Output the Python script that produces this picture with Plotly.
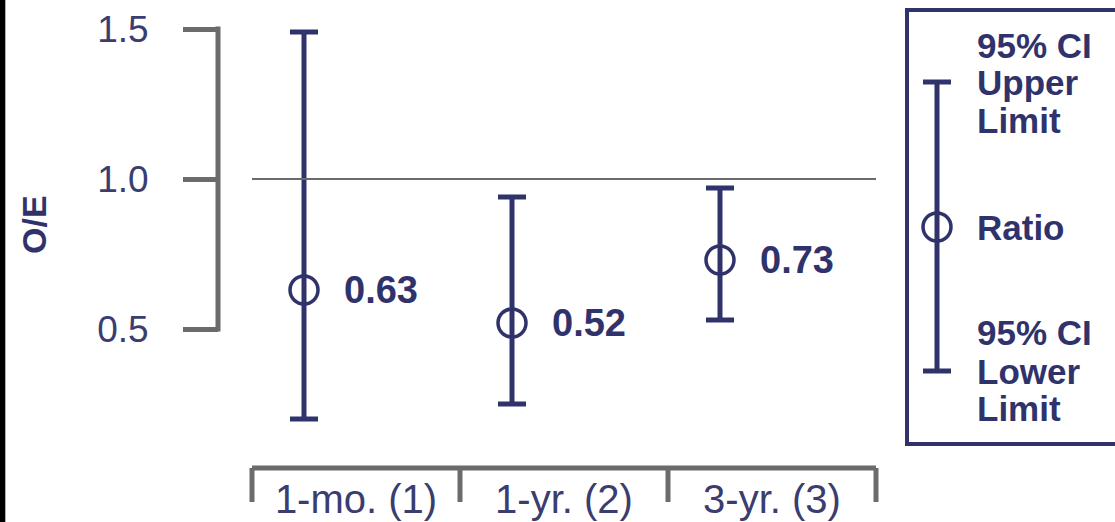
import plotly.graph_objects as go

# ---- data ----
categories = ["1-mo. (1)", "1-yr. (2)", "3-yr. (3)"]
ratio = [0.63, 0.52, 0.73]
ci_lower = [0.20, 0.25, 0.53]
ci_upper = [1.49, 0.94, 0.97]
y_ticks = [0.5, 1.0, 1.5]
y_ticktext = ["0.5", "1.0", "1.5"]
legend_upper = ["95% CI", "Upper", "Limit"]
legend_mid = "Ratio"
legend_lower = ["95% CI", "Lower", "Limit"]

# ---- style ----
NAVY = "#30336b"
TXT = "#393d6f"
GRAY = "#6b6b6b"
FONT = "Liberation Sans, Arial, sans-serif"

W, H = 1115, 522
ML, MR, MT, MB = 219, 0, 10, 54
PW, PH = W - ML - MR, H - MT - MB


def px(x):
    return (x - ML) / PW


def py(y):
    return (H - MB - y) / PH


xpos = list(range(len(categories)))
fig = go.Figure()

fig.add_trace(go.Scatter(
    x=xpos, y=ratio, mode="markers",
    marker=dict(symbol="circle-open", size=28, color=NAVY, line=dict(width=3.5, color=NAVY)),
    error_y=dict(type="data", symmetric=False,
                 array=[u - r for u, r in zip(ci_upper, ratio)],
                 arrayminus=[r - l for r, l in zip(ratio, ci_lower)],
                 color=NAVY, thickness=5, width=14),
    showlegend=False, hoverinfo="skip",
))

shapes = []
annotations = []

# value labels
for i, r in enumerate(ratio):
    annotations.append(dict(x=i, y=r, xref="x", yref="y", text=f"<b>{r:.2f}</b>",
                            showarrow=False, xanchor="left", yanchor="middle", xshift=38,
                            font=dict(family=FONT, size=38, color=NAVY)))

# category bracket
lo, hi = -0.25, len(categories) - 0.25
shapes.append(dict(type="line", xref="x", yref="paper", x0=lo, x1=hi, y0=0, y1=0,
                   line=dict(color=GRAY, width=5)))
for k in range(len(categories) + 1):
    shapes.append(dict(type="line", xref="x", yref="paper", x0=k - 0.25, x1=k - 0.25,
                       y0=0, y1=py(502), line=dict(color=GRAY, width=5)))
# reference line at 1.0
shapes.append(dict(type="line", xref="x", yref="y", x0=lo, x1=hi, y0=1, y1=1,
                   line=dict(color=GRAY, width=2)))
# y axis spine
shapes.append(dict(type="line", xref="paper", yref="y", x0=px(218), x1=px(218),
                   y0=min(y_ticks) - 0.008, y1=max(y_ticks) + 0.008, line=dict(color=GRAY, width=5)))

# left black edge
shapes.append(dict(type="rect", xref="paper", yref="paper", x0=px(-20), x1=px(5),
                   y0=py(H + 20), y1=py(-20), fillcolor="black", line=dict(width=0), layer="above"))
shapes.append(dict(type="line", xref="paper", yref="paper", x0=px(5.5), x1=px(5.5),
                   y0=py(H + 20), y1=py(-20), line=dict(color="#b0b0b0", width=1), layer="above"))

# legend box
shapes.append(dict(type="rect", xref="paper", yref="paper", x0=px(907), x1=px(1130),
                   y0=py(444), y1=py(10), line=dict(color=NAVY, width=4), fillcolor="rgba(0,0,0,0)"))
gx, gt, gb, gm = 937, 82, 371, 227
shapes.append(dict(type="line", xref="paper", yref="paper", x0=px(gx), x1=px(gx),
                   y0=py(gb), y1=py(gt), line=dict(color=NAVY, width=5)))
for yy in (gt, gb):
    shapes.append(dict(type="line", xref="paper", yref="paper", x0=px(gx - 14), x1=px(gx + 14),
                       y0=py(yy), y1=py(yy), line=dict(color=NAVY, width=5)))
shapes.append(dict(type="circle", xref="paper", yref="paper", x0=px(gx - 14), x1=px(gx + 14),
                   y0=py(gm + 14), y1=py(gm - 14), line=dict(color=NAVY, width=3.5),
                   fillcolor="rgba(0,0,0,0)"))

lx = 975
LFS = 35
for t, yy in zip(legend_upper, (45, 83, 120)):
    annotations.append(dict(x=px(lx), y=py(yy), xref="paper", yref="paper", text=f"<b>{t}</b>",
                            showarrow=False, xanchor="left", yanchor="middle",
                            font=dict(family=FONT, size=LFS, color=NAVY)))
annotations.append(dict(x=px(lx), y=py(gm), xref="paper", yref="paper", text=f"<b>{legend_mid}</b>",
                        showarrow=False, xanchor="left", yanchor="middle",
                        font=dict(family=FONT, size=LFS, color=NAVY)))
for t, yy in zip(legend_lower, (333, 371, 408)):
    annotations.append(dict(x=px(lx), y=py(yy), xref="paper", yref="paper", text=f"<b>{t}</b>",
                            showarrow=False, xanchor="left", yanchor="middle",
                            font=dict(family=FONT, size=LFS, color=NAVY)))

# y title
annotations.append(dict(x=px(34), y=py(225), xref="paper", yref="paper", text="<b>O/E</b>",
                        showarrow=False, textangle=-90, xanchor="center", yanchor="middle",
                        font=dict(family=FONT, size=34, color=NAVY)))

fig.update_layout(
    width=W, height=H,
    margin=dict(l=ML, r=MR, t=MT, b=MB),
    plot_bgcolor="white", paper_bgcolor="white",
    xaxis=dict(range=[(ML - 304) / 208, (W - MR - 304) / 208], showgrid=False, zeroline=False,
               showline=False, tickmode="array", tickvals=[i + 0.25 for i in xpos],
               ticktext=categories, ticks="", ticklabelstandoff=4,
               tickfont=dict(family=FONT, size=40, color=TXT)),
    yaxis=dict(range=[1 - (H - MB - 179) / 300, 1 + (179 - MT) / 300], showgrid=False,
               zeroline=False, showline=False, tickmode="array", tickvals=y_ticks,
               ticktext=y_ticktext, ticks="outside", ticklen=35, tickwidth=5, tickcolor=GRAY,
               ticklabelstandoff=27,
               tickfont=dict(family=FONT, size=37, color=TXT)),
    shapes=shapes, annotations=annotations,
)

fig.write_html("out.html", config={"displayModeBar": False},
               post_script="document.body.style.margin='0';")
